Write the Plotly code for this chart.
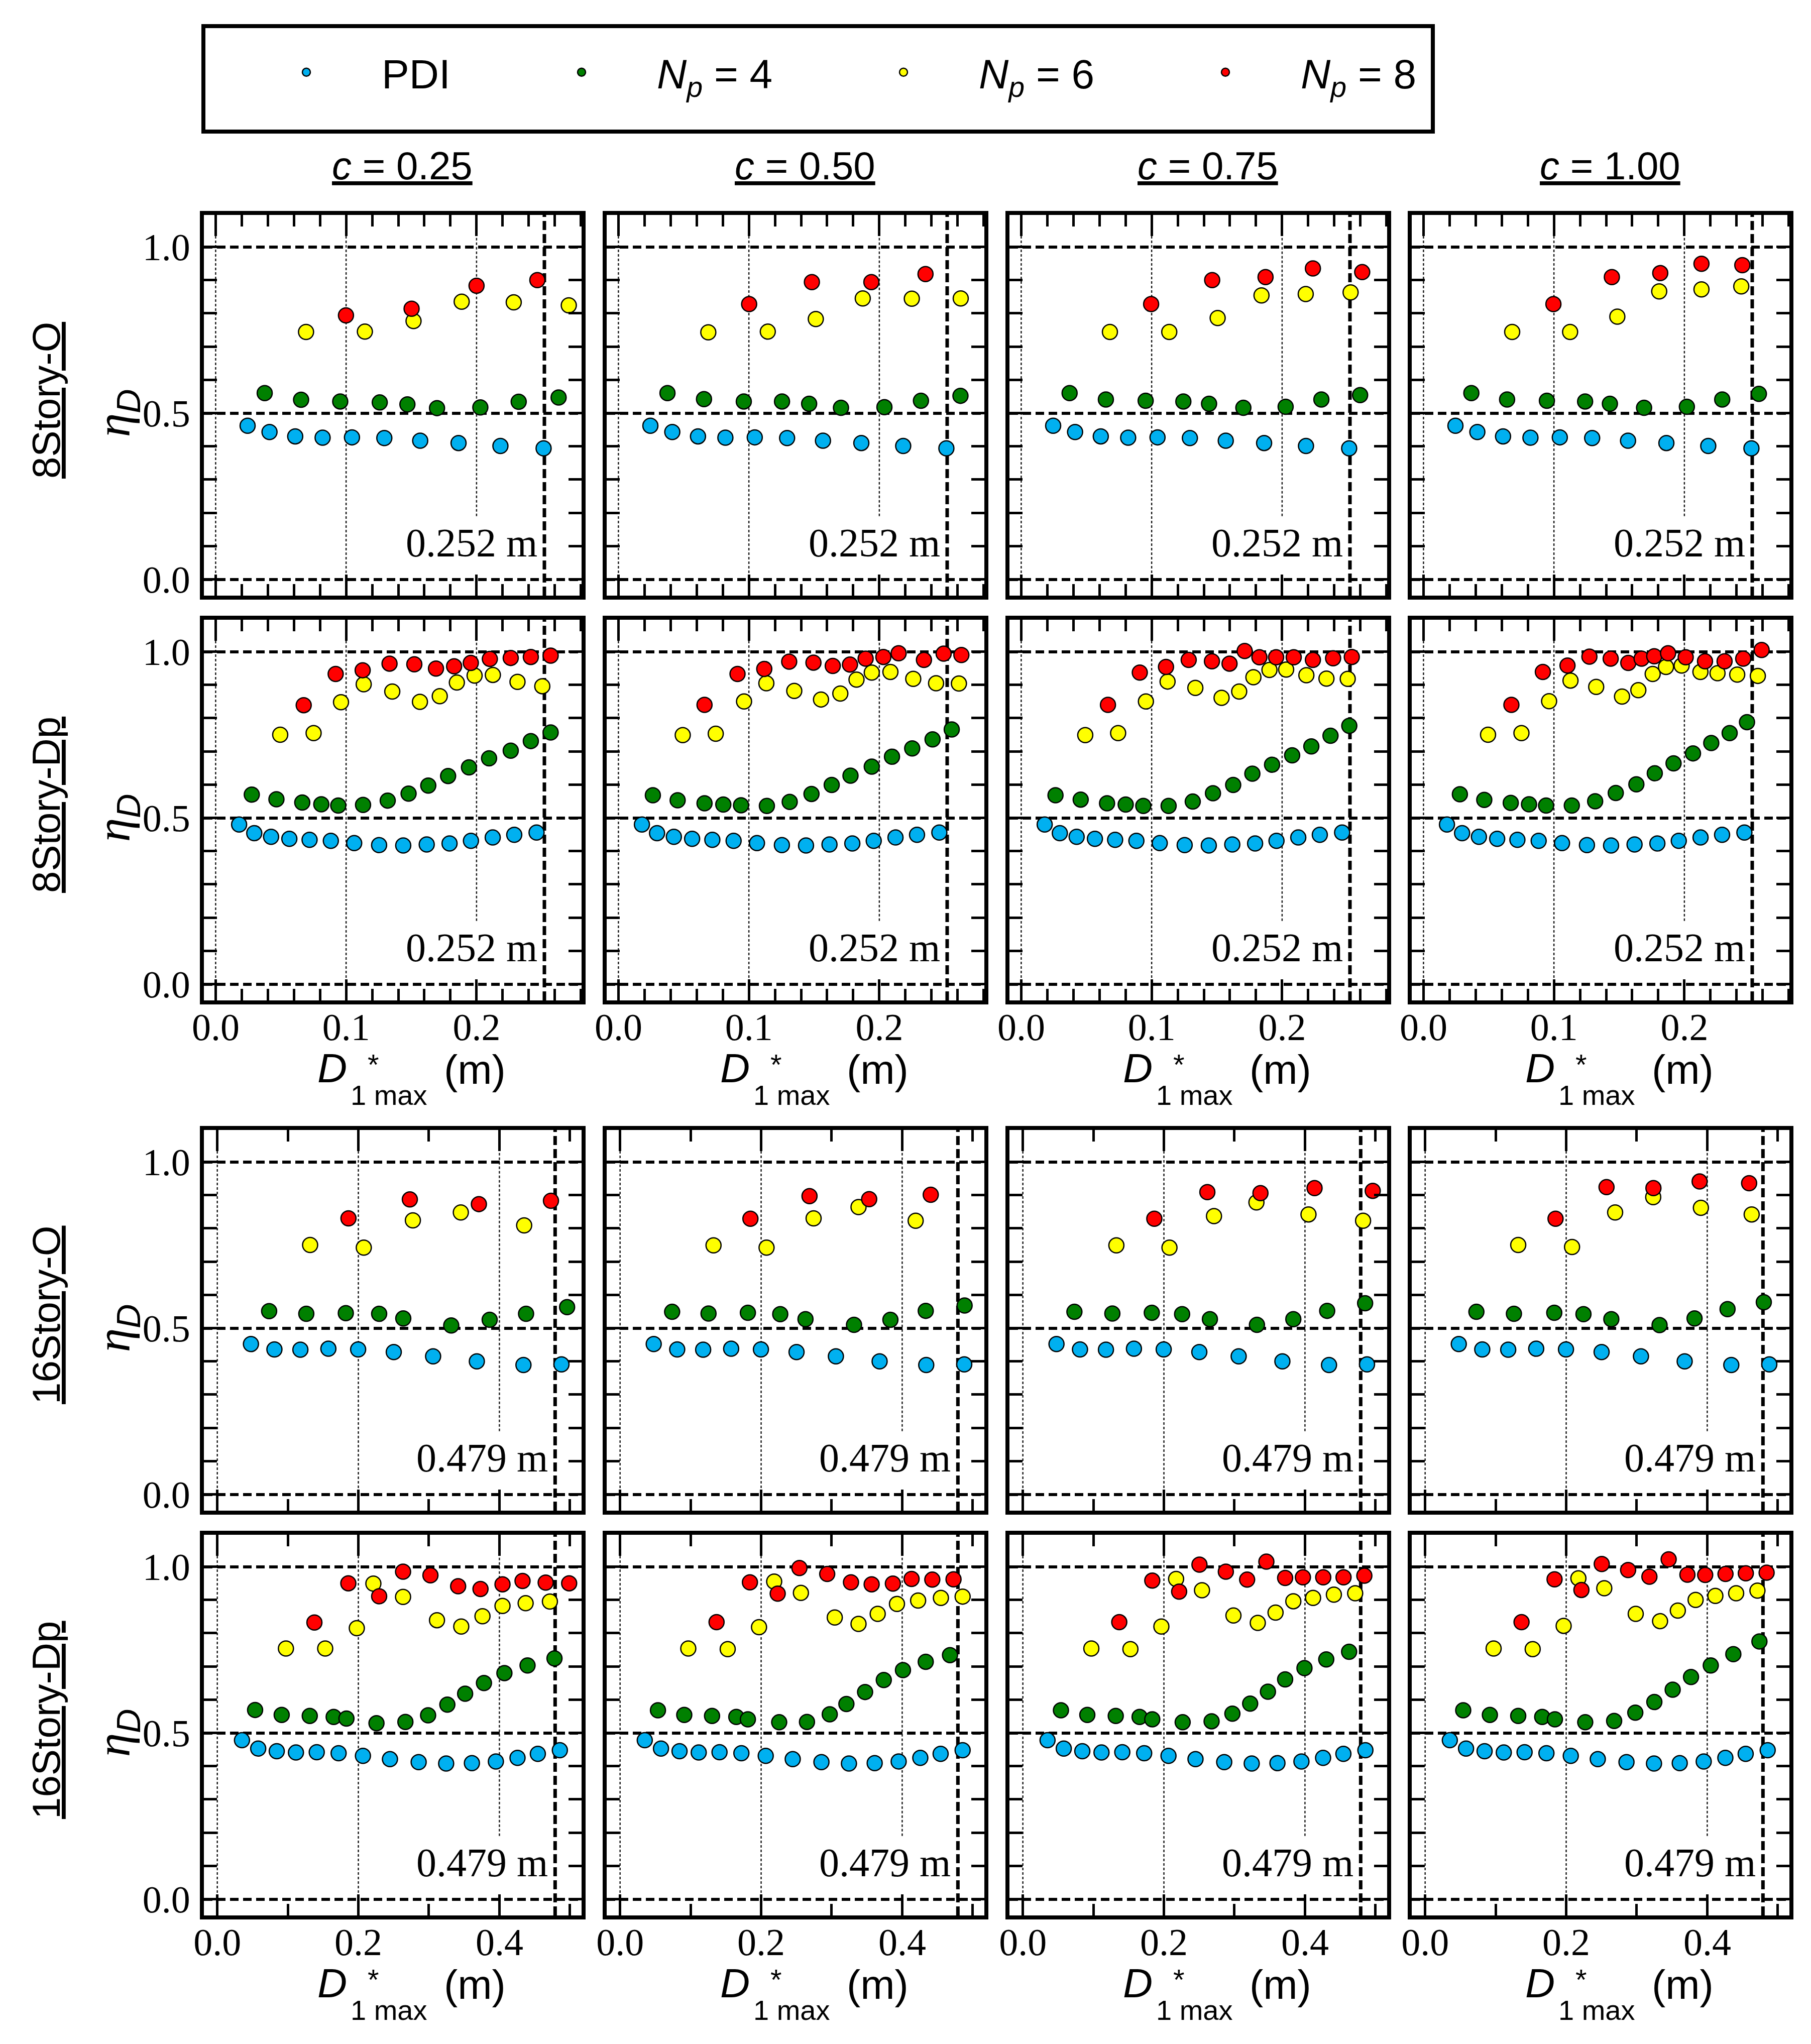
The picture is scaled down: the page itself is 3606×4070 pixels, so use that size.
import plotly.graph_objects as go

W, H = 3606, 4070

# ---------------- categories / labels ----------------
col_c = ["0.25", "0.50", "0.75", "1.00"]
row_names = ["8Story-O", "8Story-Dp", "16Story-O", "16Story-Dp"]
legend_names = ["PDI",
                "<i>N</i><sub><i>p</i></sub> = 4",
                "<i>N</i><sub><i>p</i></sub> = 6",
                "<i>N</i><sub><i>p</i></sub> = 8"]
marker_colors = ["#00B0F0", "#008000", "#FFFF00", "#FF0000"]

dmax_8story = 0.252
dmax_16story = 0.479
dmax_labels = ["0.252 m", "0.479 m"]

xref_lines_8story = [0.0, 0.1, 0.2]
xref_lines_16story = [0.0, 0.2, 0.4]
ref_line_cut_y = 0.19

# ---------------- 8Story-O ----------------
o8_pdi_x = [0.0245, 0.0413, 0.061, 0.082, 0.1045, 0.1293, 0.1568, 0.1862, 0.2183, 0.2514]
o8_pdi_y = [0.462, 0.443, 0.430, 0.426, 0.427, 0.425, 0.417, 0.410, 0.401, 0.394]

o8_c025_np4_x = [0.0376, 0.0655, 0.0955, 0.1258, 0.147, 0.1697, 0.2029, 0.2323, 0.2629]
o8_c025_np4_y = [0.560, 0.540, 0.535, 0.532, 0.526, 0.515, 0.517, 0.534, 0.547]
o8_c025_np6_x = [0.0693, 0.1144, 0.1517, 0.1886, 0.2285, 0.2707]
o8_c025_np6_y = [0.744, 0.745, 0.777, 0.835, 0.833, 0.824]
o8_c025_np8_x = [0.0999, 0.1502, 0.2, 0.2466]
o8_c025_np8_y = [0.794, 0.814, 0.883, 0.900]

o8_c050_np4_x = [0.0376, 0.0656, 0.0961, 0.1254, 0.1462, 0.1706, 0.2039, 0.2319, 0.2622]
o8_c050_np4_y = [0.560, 0.542, 0.535, 0.535, 0.528, 0.516, 0.518, 0.537, 0.552]
o8_c050_np6_x = [0.0689, 0.1145, 0.1513, 0.1873, 0.2249, 0.2624]
o8_c050_np6_y = [0.743, 0.745, 0.783, 0.845, 0.844, 0.845]
o8_c050_np8_x = [0.1002, 0.1483, 0.1939, 0.2354]
o8_c050_np8_y = [0.828, 0.894, 0.894, 0.918]

o8_c075_np4_x = [0.0371, 0.0649, 0.0954, 0.1243, 0.144, 0.1703, 0.2027, 0.2301, 0.2598]
o8_c075_np4_y = [0.560, 0.541, 0.537, 0.535, 0.528, 0.516, 0.519, 0.541, 0.554]
o8_c075_np6_x = [0.068, 0.1135, 0.1506, 0.1842, 0.2181, 0.2525]
o8_c075_np6_y = [0.744, 0.744, 0.786, 0.854, 0.858, 0.863]
o8_c075_np8_x = [0.0996, 0.1464, 0.1873, 0.2236, 0.2614]
o8_c075_np8_y = [0.828, 0.900, 0.909, 0.935, 0.924]

o8_c100_np4_x = [0.0367, 0.0641, 0.0946, 0.1239, 0.1429, 0.1691, 0.2019, 0.229, 0.2571]
o8_c100_np4_y = [0.560, 0.541, 0.537, 0.535, 0.528, 0.516, 0.519, 0.541, 0.558]
o8_c100_np6_x = [0.068, 0.1124, 0.1486, 0.1807, 0.2131, 0.2436]
o8_c100_np6_y = [0.744, 0.744, 0.790, 0.866, 0.872, 0.881]
o8_c100_np8_x = [0.0996, 0.1444, 0.1815, 0.2131, 0.2444]
o8_c100_np8_y = [0.828, 0.909, 0.921, 0.949, 0.945]

# ---------------- 8Story-Dp ----------------
dp8_pdi_x = [0.018, 0.0296, 0.0425, 0.0565, 0.072, 0.0883, 0.1062, 0.1253, 0.1438, 0.1618,
             0.1793, 0.1957, 0.2124, 0.2289, 0.246]
dp8_pdi_y = [0.480, 0.454, 0.443, 0.437, 0.434, 0.431, 0.424, 0.418, 0.417, 0.420,
             0.423, 0.431, 0.441, 0.449, 0.456]

dp8_c025_np4_x = [0.0277, 0.0466, 0.0664, 0.081, 0.094, 0.113, 0.1319, 0.1479, 0.163, 0.1782,
                  0.1942, 0.2096, 0.2262, 0.2416, 0.2568]
dp8_c025_np4_y = [0.570, 0.556, 0.546, 0.541, 0.537, 0.539, 0.552, 0.573, 0.597, 0.626,
                  0.652, 0.679, 0.702, 0.731, 0.757]
dp8_c025_np6_x = [0.0495, 0.0751, 0.0961, 0.1135, 0.1354, 0.1566, 0.1718, 0.1849, 0.1985, 0.2125,
                  0.2314, 0.2504]
dp8_c025_np6_y = [0.750, 0.755, 0.848, 0.902, 0.880, 0.849, 0.866, 0.907, 0.928, 0.930,
                  0.909, 0.896]
dp8_c025_np8_x = [0.0675, 0.092, 0.1127, 0.1333, 0.1523, 0.1689, 0.1828, 0.1956, 0.2102, 0.2262,
                  0.2416, 0.2568]
dp8_c025_np8_y = [0.839, 0.933, 0.944, 0.964, 0.962, 0.949, 0.956, 0.966, 0.978, 0.981,
                  0.984, 0.988]

dp8_c050_np4_x = [0.0264, 0.0454, 0.066, 0.0804, 0.094, 0.1138, 0.1313, 0.148, 0.1635, 0.1779,
                  0.1942, 0.2097, 0.2252, 0.2408, 0.2555]
dp8_c050_np4_y = [0.568, 0.553, 0.544, 0.540, 0.538, 0.536, 0.548, 0.572, 0.599, 0.627,
                  0.654, 0.684, 0.709, 0.736, 0.766]
dp8_c050_np6_x = [0.0493, 0.0746, 0.0963, 0.1134, 0.1348, 0.1553, 0.1701, 0.1825, 0.1942, 0.2085,
                  0.226, 0.2435, 0.261]
dp8_c050_np6_y = [0.749, 0.753, 0.850, 0.905, 0.882, 0.856, 0.874, 0.916, 0.937, 0.939,
                  0.918, 0.905, 0.904]
dp8_c050_np8_x = [0.066, 0.0913, 0.1118, 0.1309, 0.1495, 0.1643, 0.1775, 0.1895, 0.2031, 0.2148,
                  0.2342, 0.2493, 0.2629]
dp8_c050_np8_y = [0.840, 0.933, 0.948, 0.970, 0.967, 0.957, 0.961, 0.979, 0.984, 0.995,
                  0.975, 0.994, 0.990]

dp8_c075_np4_x = [0.0263, 0.0456, 0.0658, 0.0801, 0.0936, 0.113, 0.1315, 0.147, 0.1625, 0.1772,
                  0.1923, 0.2077, 0.2224, 0.2371, 0.2515]
dp8_c075_np4_y = [0.568, 0.555, 0.544, 0.540, 0.536, 0.536, 0.549, 0.574, 0.599, 0.633,
                  0.660, 0.688, 0.715, 0.747, 0.777]
dp8_c075_np6_x = [0.0491, 0.0743, 0.0956, 0.1122, 0.1335, 0.1536, 0.1671, 0.178, 0.1903, 0.2031,
                  0.2186, 0.234, 0.2503]
dp8_c075_np6_y = [0.749, 0.755, 0.850, 0.910, 0.891, 0.861, 0.880, 0.923, 0.945, 0.946,
                  0.929, 0.919, 0.918]
dp8_c075_np8_x = [0.0665, 0.0909, 0.111, 0.1284, 0.1462, 0.1597, 0.1713, 0.1826, 0.1954, 0.2089,
                  0.2236, 0.2391, 0.2534]
dp8_c075_np8_y = [0.840, 0.937, 0.954, 0.975, 0.971, 0.964, 1.002, 0.983, 0.983, 0.983,
                  0.975, 0.980, 0.984]

dp8_c100_np4_x = [0.0279, 0.0466, 0.0669, 0.0809, 0.094, 0.1137, 0.1316, 0.1474, 0.1632, 0.1773,
                  0.1917, 0.2066, 0.2206, 0.2347, 0.248]
dp8_c100_np4_y = [0.571, 0.554, 0.545, 0.541, 0.537, 0.537, 0.550, 0.575, 0.601, 0.634,
                  0.664, 0.694, 0.725, 0.755, 0.788]
dp8_c100_np6_x = [0.0495, 0.0751, 0.0963, 0.1127, 0.1324, 0.1522, 0.1647, 0.1757, 0.1859, 0.1979,
                  0.2123, 0.2254, 0.2405, 0.2563]
dp8_c100_np6_y = [0.750, 0.755, 0.851, 0.913, 0.894, 0.865, 0.884, 0.933, 0.954, 0.958,
                  0.939, 0.935, 0.931, 0.927]
dp8_c100_np8_x = [0.0674, 0.0915, 0.1104, 0.1272, 0.1435, 0.157, 0.1672, 0.1769, 0.1875, 0.201,
                  0.2158, 0.2308, 0.2451, 0.2592]
dp8_c100_np8_y = [0.840, 0.939, 0.958, 0.985, 0.979, 0.966, 0.979, 0.986, 0.995, 0.983,
                  0.971, 0.971, 0.979, 1.005]

# ---------------- 16Story-O ----------------
o16_pdi_x = [0.0477, 0.081, 0.1178, 0.1575, 0.1997, 0.2502, 0.306, 0.368, 0.4341, 0.488]
o16_pdi_y = [0.452, 0.436, 0.435, 0.438, 0.436, 0.428, 0.415, 0.400, 0.389, 0.391]

o16_c025_np4_x = [0.0735, 0.1262, 0.1822, 0.2295, 0.2637, 0.3317, 0.3862, 0.4378, 0.496]
o16_c025_np4_y = [0.551, 0.543, 0.545, 0.543, 0.529, 0.508, 0.525, 0.543, 0.563]
o16_c025_np6_x = [0.1316, 0.2077, 0.2773, 0.3453, 0.4351]
o16_c025_np6_y = [0.750, 0.742, 0.824, 0.848, 0.809]
o16_c025_np8_x = [0.186, 0.273, 0.3709, 0.4731]
o16_c025_np8_y = [0.830, 0.887, 0.873, 0.883]

o16_c050_np4_x = [0.0738, 0.1254, 0.1812, 0.2271, 0.2629, 0.3317, 0.3833, 0.4334, 0.4885]
o16_c050_np4_y = [0.549, 0.544, 0.546, 0.542, 0.527, 0.510, 0.525, 0.552, 0.568]
o16_c050_np6_x = [0.1325, 0.2077, 0.2744, 0.3381, 0.4191]
o16_c050_np6_y = [0.749, 0.742, 0.830, 0.864, 0.823]
o16_c050_np8_x = [0.1848, 0.2686, 0.3532, 0.4405]
o16_c050_np8_y = [0.829, 0.897, 0.888, 0.901]

o16_c075_np4_x = [0.0731, 0.1269, 0.1828, 0.2258, 0.2652, 0.3319, 0.3835, 0.4315, 0.4853]
o16_c075_np4_y = [0.549, 0.544, 0.546, 0.542, 0.527, 0.510, 0.527, 0.552, 0.575]
o16_c075_np6_x = [0.1326, 0.2079, 0.271, 0.3312, 0.405, 0.4824]
o16_c075_np6_y = [0.749, 0.742, 0.837, 0.878, 0.842, 0.823]
o16_c075_np8_x = [0.1864, 0.2616, 0.3369, 0.4136, 0.4961]
o16_c075_np8_y = [0.829, 0.909, 0.906, 0.921, 0.913]

o16_c100_np4_x = [0.0727, 0.1259, 0.1831, 0.2245, 0.264, 0.3324, 0.382, 0.4288, 0.4802]
o16_c100_np4_y = [0.549, 0.543, 0.546, 0.542, 0.527, 0.509, 0.529, 0.557, 0.578]
o16_c100_np6_x = [0.132, 0.2083, 0.2694, 0.3234, 0.391, 0.463]
o16_c100_np6_y = [0.750, 0.744, 0.848, 0.894, 0.862, 0.842]
o16_c100_np8_x = [0.1849, 0.2572, 0.3237, 0.3892, 0.4594]
o16_c100_np8_y = [0.829, 0.924, 0.921, 0.941, 0.936]

# ---------------- 16Story-Dp ----------------
dp16_pdi_x = [0.035, 0.058, 0.0843, 0.1115, 0.141, 0.172, 0.2065, 0.2448, 0.2855, 0.3245,
              0.361, 0.395, 0.4257, 0.4545, 0.4857]
dp16_pdi_y = [0.478, 0.453, 0.445, 0.441, 0.442, 0.439, 0.431, 0.421, 0.412, 0.408,
              0.409, 0.414, 0.425, 0.437, 0.448]

dp16_c025_np4_x = [0.0536, 0.0913, 0.1311, 0.165, 0.1831, 0.2257, 0.2667, 0.2989, 0.3262, 0.3514,
                   0.3781, 0.4071, 0.4399, 0.4781]
dp16_c025_np4_y = [0.569, 0.554, 0.551, 0.548, 0.543, 0.529, 0.533, 0.553, 0.585, 0.618,
                   0.650, 0.680, 0.703, 0.724]
dp16_c025_np6_x = [0.0973, 0.153, 0.1978, 0.2213, 0.2634, 0.3115, 0.3459, 0.376, 0.4044, 0.4372,
                   0.4716]
dp16_c025_np6_y = [0.754, 0.754, 0.815, 0.949, 0.909, 0.839, 0.820, 0.851, 0.882, 0.890,
                   0.895]
dp16_c025_np8_x = [0.1377, 0.1858, 0.2295, 0.2634, 0.3022, 0.3415, 0.3732, 0.4044, 0.4328, 0.4656,
                   0.4989]
dp16_c025_np8_y = [0.832, 0.950, 0.911, 0.985, 0.974, 0.941, 0.933, 0.947, 0.957, 0.952,
                   0.950]

dp16_c050_np4_x = [0.0537, 0.091, 0.1304, 0.1648, 0.1812, 0.2256, 0.265, 0.2973, 0.3209, 0.3474,
                   0.3739, 0.4011, 0.4334, 0.4678]
dp16_c050_np4_y = [0.568, 0.554, 0.551, 0.548, 0.541, 0.532, 0.533, 0.556, 0.587, 0.623,
                   0.659, 0.689, 0.714, 0.734]
dp16_c050_np6_x = [0.0967, 0.1526, 0.197, 0.2185, 0.2564, 0.3044, 0.3381, 0.3653, 0.3926, 0.4226,
                   0.4549, 0.4857]
dp16_c050_np6_y = [0.754, 0.752, 0.818, 0.955, 0.921, 0.847, 0.828, 0.858, 0.888, 0.898,
                   0.906, 0.910]
dp16_c050_np8_x = [0.1368, 0.1841, 0.2235, 0.2543, 0.2937, 0.3274, 0.3567, 0.3868, 0.4133, 0.4427,
                   0.4728]
dp16_c050_np8_y = [0.833, 0.953, 0.919, 0.996, 0.978, 0.953, 0.947, 0.949, 0.963, 0.961,
                   0.962]

dp16_c075_np4_x = [0.054, 0.0914, 0.1317, 0.1655, 0.1835, 0.2266, 0.2676, 0.2971, 0.3223, 0.3475,
                   0.3719, 0.3993, 0.4302, 0.4626]
dp16_c075_np4_y = [0.568, 0.554, 0.551, 0.548, 0.541, 0.532, 0.535, 0.558, 0.588, 0.624,
                   0.661, 0.695, 0.721, 0.744]
dp16_c075_np6_x = [0.0971, 0.1525, 0.1964, 0.2173, 0.254, 0.2986, 0.3331, 0.3583, 0.3835, 0.4115,
                   0.441, 0.4712]
dp16_c075_np6_y = [0.754, 0.752, 0.820, 0.963, 0.929, 0.853, 0.831, 0.862, 0.896, 0.906,
                   0.916, 0.920]
dp16_c075_np8_x = [0.1367, 0.1835, 0.2216, 0.2504, 0.2878, 0.318, 0.3453, 0.3719, 0.3971, 0.4259,
                   0.4547, 0.4842]
dp16_c075_np8_y = [0.833, 0.958, 0.925, 1.006, 0.985, 0.961, 1.015, 0.966, 0.968, 0.968,
                   0.968, 0.973]

dp16_c100_np4_x = [0.054, 0.0918, 0.132, 0.166, 0.184, 0.227, 0.268, 0.298, 0.325, 0.351,
                   0.377, 0.405, 0.437, 0.474]
dp16_c100_np4_y = [0.568, 0.554, 0.551, 0.548, 0.541, 0.532, 0.536, 0.561, 0.593, 0.630,
                   0.668, 0.703, 0.737, 0.775]
dp16_c100_np6_x = [0.0971, 0.1525, 0.1964, 0.2173, 0.254, 0.2986, 0.3331, 0.3583, 0.3835, 0.4115,
                   0.441, 0.4712]
dp16_c100_np6_y = [0.754, 0.752, 0.822, 0.965, 0.935, 0.858, 0.836, 0.868, 0.900, 0.912,
                   0.920, 0.928]
dp16_c100_np8_x = [0.1367, 0.1835, 0.2216, 0.2504, 0.2878, 0.318, 0.3453, 0.3719, 0.3971, 0.4259,
                   0.4547, 0.4842]
dp16_c100_np8_y = [0.833, 0.962, 0.930, 1.008, 0.990, 0.970, 1.022, 0.976, 0.975, 0.978,
                   0.980, 0.982]

# ---------------- assemble panels from the named lists ----------------
panel_rows = [
    [(o8_pdi_x, o8_pdi_y, o8_c025_np4_x, o8_c025_np4_y, o8_c025_np6_x, o8_c025_np6_y, o8_c025_np8_x, o8_c025_np8_y),
     (o8_pdi_x, o8_pdi_y, o8_c050_np4_x, o8_c050_np4_y, o8_c050_np6_x, o8_c050_np6_y, o8_c050_np8_x, o8_c050_np8_y),
     (o8_pdi_x, o8_pdi_y, o8_c075_np4_x, o8_c075_np4_y, o8_c075_np6_x, o8_c075_np6_y, o8_c075_np8_x, o8_c075_np8_y),
     (o8_pdi_x, o8_pdi_y, o8_c100_np4_x, o8_c100_np4_y, o8_c100_np6_x, o8_c100_np6_y, o8_c100_np8_x, o8_c100_np8_y)],
    [(dp8_pdi_x, dp8_pdi_y, dp8_c025_np4_x, dp8_c025_np4_y, dp8_c025_np6_x, dp8_c025_np6_y, dp8_c025_np8_x, dp8_c025_np8_y),
     (dp8_pdi_x, dp8_pdi_y, dp8_c050_np4_x, dp8_c050_np4_y, dp8_c050_np6_x, dp8_c050_np6_y, dp8_c050_np8_x, dp8_c050_np8_y),
     (dp8_pdi_x, dp8_pdi_y, dp8_c075_np4_x, dp8_c075_np4_y, dp8_c075_np6_x, dp8_c075_np6_y, dp8_c075_np8_x, dp8_c075_np8_y),
     (dp8_pdi_x, dp8_pdi_y, dp8_c100_np4_x, dp8_c100_np4_y, dp8_c100_np6_x, dp8_c100_np6_y, dp8_c100_np8_x, dp8_c100_np8_y)],
    [(o16_pdi_x, o16_pdi_y, o16_c025_np4_x, o16_c025_np4_y, o16_c025_np6_x, o16_c025_np6_y, o16_c025_np8_x, o16_c025_np8_y),
     (o16_pdi_x, o16_pdi_y, o16_c050_np4_x, o16_c050_np4_y, o16_c050_np6_x, o16_c050_np6_y, o16_c050_np8_x, o16_c050_np8_y),
     (o16_pdi_x, o16_pdi_y, o16_c075_np4_x, o16_c075_np4_y, o16_c075_np6_x, o16_c075_np6_y, o16_c075_np8_x, o16_c075_np8_y),
     (o16_pdi_x, o16_pdi_y, o16_c100_np4_x, o16_c100_np4_y, o16_c100_np6_x, o16_c100_np6_y, o16_c100_np8_x, o16_c100_np8_y)],
    [(dp16_pdi_x, dp16_pdi_y, dp16_c025_np4_x, dp16_c025_np4_y, dp16_c025_np6_x, dp16_c025_np6_y, dp16_c025_np8_x, dp16_c025_np8_y),
     (dp16_pdi_x, dp16_pdi_y, dp16_c050_np4_x, dp16_c050_np4_y, dp16_c050_np6_x, dp16_c050_np6_y, dp16_c050_np8_x, dp16_c050_np8_y),
     (dp16_pdi_x, dp16_pdi_y, dp16_c075_np4_x, dp16_c075_np4_y, dp16_c075_np6_x, dp16_c075_np6_y, dp16_c075_np8_x, dp16_c075_np8_y),
     (dp16_pdi_x, dp16_pdi_y, dp16_c100_np4_x, dp16_c100_np4_y, dp16_c100_np6_x, dp16_c100_np6_y, dp16_c100_np8_x, dp16_c100_np8_y)],
]

# ---------------- layout geometry (pixels) ----------------
col_left = [398, 1200, 2002, 2803]
col_w = 752
row_top = [420, 1226, 2242, 3048]
row_h = 758
y_range = [-0.049, 1.096]
x_range_8 = [-0.009, 0.2805]
x_range_16 = [-0.019, 0.5165]

SERIF = "Liberation Serif"
SANS = "Liberation Sans"
LW = 8

def px_x(p):
    return p / W

def px_y(p):
    return 1 - p / H

fig = go.Figure()
layout = dict(width=W, height=H, margin=dict(l=0, r=0, t=0, b=0, autoexpand=False),
              paper_bgcolor="white", plot_bgcolor="white", showlegend=True)
shapes = []
annotations = []
legend_ids = ["legend", "legend2", "legend3", "legend4"]

for r in range(4):
    is8 = r < 2
    xr = x_range_8 if is8 else x_range_16
    dmax = dmax_8story if is8 else dmax_16story
    refx = xref_lines_8story if is8 else xref_lines_16story
    for c in range(4):
        k = r * 4 + c + 1
        xa = "x" if k == 1 else f"x{k}"
        ya = "y" if k == 1 else f"y{k}"
        xkey = "xaxis" if k == 1 else f"xaxis{k}"
        ykey = "yaxis" if k == 1 else f"yaxis{k}"
        L = col_left[c]
        T = row_top[r]
        layout[xkey] = dict(
            domain=[px_x(L), px_x(L + col_w)], range=xr, anchor=ya,
            showline=True, linewidth=LW, linecolor="black", mirror="allticks",
            ticks="inside", ticklen=42, tickwidth=5, tickcolor="black",
            tick0=0, dtick=0.1 if is8 else 0.2, tickformat=".1f",
            minor=dict(dtick=0.02 if is8 else 0.1, tick0=0, ticks="inside", ticklen=23,
                       tickwidth=5, tickcolor="black", showgrid=False),
            showgrid=False, zeroline=False,
            showticklabels=(r in (1, 3)),
            tickfont=dict(family=SERIF, size=76, color="black"),
            ticklabelstandoff=-20,
        )
        layout[ykey] = dict(
            domain=[px_y(T + row_h), px_y(T)], range=y_range, anchor=xa,
            showline=True, linewidth=LW, linecolor="black", mirror="allticks",
            ticks="inside", ticklen=26, tickwidth=5, tickcolor="black",
            tick0=0, dtick=0.5, tickformat=".1f",
            minor=dict(dtick=0.1, tick0=0, ticks="inside", ticklen=26,
                       tickwidth=5, tickcolor="black", showgrid=False),
            showgrid=True, gridcolor="black", gridwidth=5.5, griddash="17px,9px",
            zeroline=False,
            showticklabels=(c == 0),
            tickfont=dict(family=SERIF, size=76, color="black"),
            ticklabelstandoff=4,
        )

        # reference vertical lines
        for i, xv in enumerate(refx):
            if i < 2:
                shapes.append(dict(type="line", xref=xa, yref=f"{ya} domain", x0=xv, x1=xv, y0=0, y1=1,
                                   line=dict(color="#1a1a1a", width=2.5, dash="5px,4px"), layer="below"))
            else:
                shapes.append(dict(type="line", xref=xa, yref=ya, x0=xv, x1=xv,
                                   y0=ref_line_cut_y, y1=y_range[1],
                                   line=dict(color="#1a1a1a", width=2.5, dash="5px,4px"), layer="below"))
        shapes.append(dict(type="line", xref=xa, yref=f"{ya} domain", x0=dmax, x1=dmax, y0=0, y1=1,
                           line=dict(color="black", width=7, dash="18px,8px"), layer="below"))
        annotations.append(dict(xref=xa, yref=ya, x=dmax, y=0.11, xanchor="right", yanchor="middle",
                                xshift=-12, showarrow=False, text=dmax_labels[0 if is8 else 1],
                                font=dict(family=SERIF, size=80, color="black")))

        pdx, pdy, n4x, n4y, n6x, n6y, n8x, n8y = panel_rows[r][c]
        for s, (sx, sy) in enumerate([(pdx, pdy), (n4x, n4y), (n6x, n6y), (n8x, n8y)]):
            fig.add_trace(go.Scatter(
                x=sx, y=sy, mode="markers", xaxis=xa, yaxis=ya,
                name=legend_names[s], legendgroup=f"s{s}", legend=legend_ids[s],
                showlegend=(k == 1), hoverinfo="skip",
                marker=dict(size=30, color=marker_colors[s], line=dict(color="black", width=2.5)),
            ))

    # row label and eta_D
    y_half = T + (y_range[1] - 0.5) / (y_range[1] - y_range[0]) * row_h
    annotations.append(dict(xref="paper", yref="paper", x=px_x(84), y=px_y(T + row_h / 2 - 10),
                            xanchor="center", yanchor="middle", textangle=-90, showarrow=False,
                            text=f"<u>{row_names[r]}</u>", font=dict(family=SANS, size=78, color="black")))
    annotations.append(dict(xref="paper", yref="paper", x=px_x(224), y=px_y(y_half),
                            xanchor="center", yanchor="middle", textangle=-90, showarrow=False,
                            text="<i>η</i><sub><span style='font-family:Liberation Sans'><i>D</i></span></sub>",
                            font=dict(family=SERIF, size=96, color="black")))

    # x-axis titles on rows 2 and 4
    if r in (1, 3):
        B = T + row_h
        for c in range(4):
            L = col_left[c]
            annotations.append(dict(xref="paper", yref="paper", x=px_x(L + 224), y=px_y(B + 134),
                                    xanchor="left", yanchor="middle", showarrow=False,
                                    text="<i>D</i>", font=dict(family=SANS, size=82, color="black")))
            annotations.append(dict(xref="paper", yref="paper", x=px_x(L + 324), y=px_y(B + 127),
                                    xanchor="left", yanchor="middle", showarrow=False,
                                    text="*", font=dict(family=SANS, size=58, color="black")))
            annotations.append(dict(xref="paper", yref="paper", x=px_x(L + 290), y=px_y(B + 188),
                                    xanchor="left", yanchor="middle", showarrow=False,
                                    text="1 max", font=dict(family=SANS, size=56, color="black")))
            annotations.append(dict(xref="paper", yref="paper", x=px_x(L + 476), y=px_y(B + 137),
                                    xanchor="left", yanchor="middle", showarrow=False,
                                    text="(m)", font=dict(family=SANS, size=82, color="black")))

# column titles
for c in range(4):
    annotations.append(dict(xref="paper", yref="paper", x=px_x(col_left[c] + col_w / 2 + 19), y=px_y(322),
                            xanchor="center", yanchor="middle", showarrow=False,
                            text=f"<u><i>c</i> = {col_c[c]}</u>", font=dict(family=SANS, size=78, color="black")))

# legend frame
shapes.append(dict(type="rect", xref="paper", yref="paper", x0=px_x(397), x1=px_x(2845),
                   y0=px_y(254), y1=px_y(44), line=dict(color="black", width=8), fillcolor="rgba(0,0,0,0)"))

legend_marker_px = [602, 1150, 1791, 2432]
for i, lid in enumerate(legend_ids):
    layout[lid] = dict(x=px_x(legend_marker_px[i] - 150), y=px_y(136), xanchor="left", yanchor="middle",
                       orientation="h", itemwidth=290, bgcolor="rgba(0,0,0,0)", borderwidth=0,
                       font=dict(family=SANS, size=82, color="black"), itemclick=False, itemdoubleclick=False)

layout["shapes"] = shapes
layout["annotations"] = annotations
fig.update_layout(**layout)
fig.write_html("out.html")
